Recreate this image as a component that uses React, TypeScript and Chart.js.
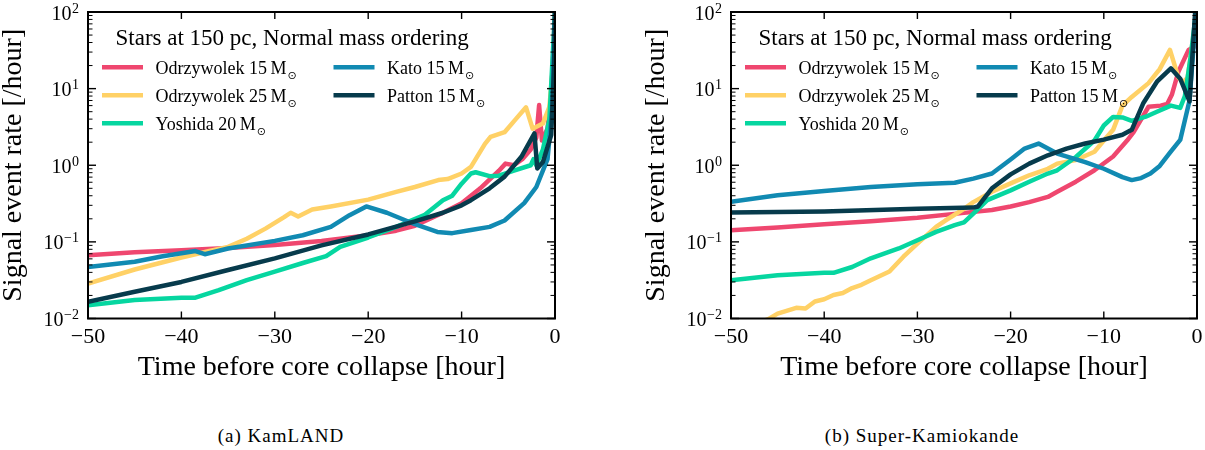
import React, { useEffect, useRef } from 'react';
import { Chart, registerables } from 'chart.js';

Chart.register(...registerables);

const FONT = "'Liberation Serif', 'DejaVu Serif', serif";

// axes
const xTickValues = [-50, -40, -30, -20, -10, 0];
const xTickLabels = ['\u221250', '\u221240', '\u221230', '\u221220', '\u221210', '0'];
const yTickValues = [0.01, 0.1, 1, 10, 100];
const yTickExponents = ['\u22122', '\u22121', '0', '1', '2'];
const yMinorSteps = [2, 3, 4, 5, 6, 7, 8, 9];

const xTitle = 'Time before core collapse [hour]';
const yTitle = 'Signal event rate [/hour]';
const legendTitle = 'Stars at 150 pc, Normal mass ordering';

// series (same order in both panels)
const seriesNames = ['Odrzywolek 15', 'Odrzywolek 25', 'Yoshida 20', 'Kato 15', 'Patton 15'];
const seriesColors = ['#ef476f', '#ffd166', '#06d6a0', '#118ab2', '#073b4c'];

// (a) KamLAND
const kamOdr15T = [-50, -45, -40, -35, -30, -25, -20, -17, -15, -12, -10, -8, -6, -5.3, -4.4, -3.5, -2.6, -2.0, -1.7, -1.4, -0.8, -0.4, 0];
const kamOdr15R = [0.067, 0.073, 0.078, 0.083, 0.091, 0.103, 0.122, 0.14, 0.162, 0.24, 0.32, 0.5, 0.85, 1.05, 1.0, 1.2, 1.6, 2.3, 6.1, 2.1, 3.0, 8, 100];
const kamOdr25T = [-50, -45, -40, -37, -35, -33, -31, -29, -28.3, -27.5, -26, -24, -20, -17, -15, -12.5, -11.5, -10, -9, -7.5, -6.9, -5.4, -4.2, -3.1, -2.4, -1.3, -0.6, -0.2, 0];
const kamOdr25R = [0.0286, 0.0436, 0.0625, 0.076, 0.086, 0.11, 0.149, 0.21, 0.24, 0.215, 0.264, 0.29, 0.356, 0.45, 0.52, 0.64, 0.66, 0.78, 0.95, 1.9, 2.35, 2.7, 4.0, 5.7, 3.0, 3.5, 5.8, 20, 100];
const kamYosT = [-50, -45, -40, -38.5, -36, -33, -30, -27, -24.5, -23, -20, -17, -14, -12, -11, -10, -9, -8.5, -7, -6, -4.4, -2.6, -2.3, -2.0, -1.3, -0.6, 0];
const kamYosR = [0.0149, 0.0174, 0.0186, 0.0187, 0.0234, 0.0316, 0.041, 0.053, 0.065, 0.086, 0.114, 0.157, 0.223, 0.35, 0.4, 0.575, 0.78, 0.81, 0.72, 0.73, 0.85, 1.0, 1.2, 1.0, 1.6, 4, 100];
const kamKatoT = [-50, -45, -42, -38.5, -37.5, -35, -30, -27, -24, -22, -20.2, -18, -15, -12.6, -11, -9, -7, -5.4, -3.3, -2.0, -0.8, -0.3, 0];
const kamKatoR = [0.047, 0.055, 0.065, 0.076, 0.069, 0.082, 0.103, 0.122, 0.157, 0.223, 0.29, 0.24, 0.17, 0.135, 0.13, 0.143, 0.157, 0.19, 0.32, 0.52, 1.2, 5.6, 100];
const kamPatT = [-50, -45, -40, -35, -30, -25, -20, -15, -12, -10, -9, -7, -5.4, -3.6, -2.2, -1.9, -1.3, -0.4, -0.1, 0];
const kamPatR = [0.0165, 0.0223, 0.03, 0.043, 0.061, 0.09, 0.125, 0.185, 0.24, 0.3, 0.35, 0.5, 0.71, 1.29, 2.6, 0.91, 1.1, 2.5, 20, 100];

// (b) Super-Kamiokande
const skOdr15T = [-50, -45, -40, -35, -30, -25, -22, -20, -18, -16, -15, -13, -11, -9, -7.5, -6.8, -5.2, -3.9, -3.2, -2.7, -2.0, -0.9, 0];
const skOdr15R = [0.142, 0.154, 0.17, 0.186, 0.207, 0.239, 0.26, 0.29, 0.33, 0.386, 0.45, 0.61, 0.86, 1.3, 2.1, 2.7, 5.8, 6.0, 6.3, 8.3, 16.6, 32, 37];
const skOdr25T = [-50, -46, -45, -43, -42, -41, -40, -39, -38, -37, -36, -35, -33, -31.5, -30, -28, -27, -25, -24, -22, -20, -18, -16, -15, -13, -11, -10, -9, -8, -7, -5.2, -4, -2.9, -2, -1.5, -1, 0];
const skOdr25R = [0.0065, 0.0098, 0.0116, 0.0138, 0.0135, 0.0167, 0.0178, 0.0203, 0.0215, 0.025, 0.0275, 0.0316, 0.041, 0.064, 0.095, 0.157, 0.19, 0.27, 0.33, 0.45, 0.58, 0.74, 0.9, 1.05, 1.17, 1.5, 2.1, 2.9, 6.0, 7.8, 11.8, 18, 32, 14, 12, 14, 100];
const skYosT = [-50, -45, -40, -39, -37, -35, -32, -30, -28, -26, -25, -24, -22.5, -20, -18, -16, -15, -13, -11, -10, -9, -8, -7, -5.5, -4.3, -2.8, -1.8, -1.3, -0.7, -0.1];
const skYosR = [0.0316, 0.0367, 0.0394, 0.0394, 0.047, 0.061, 0.082, 0.105, 0.135, 0.165, 0.18, 0.234, 0.35, 0.47, 0.61, 0.78, 0.86, 1.28, 2.1, 3.3, 4.27, 4.2, 3.8, 4.3, 5.0, 6.0, 5.6, 8, 25, 100];
const skKatoT = [-50, -45, -40, -35, -30, -26, -24, -22, -20, -18.5, -17, -15, -12, -10, -8, -7, -6, -5, -4, -2.9, -1.8, -0.8, -0.1];
const skKatoR = [0.333, 0.406, 0.462, 0.52, 0.565, 0.59, 0.67, 0.78, 1.19, 1.65, 1.92, 1.42, 1.1, 0.9, 0.7, 0.64, 0.68, 0.78, 0.98, 1.46, 2.14, 7, 100];
const skPatT = [-50, -40, -30, -24, -23.5, -22, -20, -18, -16, -14, -12, -10, -8, -7, -5.75, -4.3, -2.8, -1.8, -0.8, -0.2];
const skPatR = [0.241, 0.25, 0.27, 0.28, 0.29, 0.5, 0.76, 1.05, 1.35, 1.65, 1.92, 2.16, 2.5, 2.9, 6.5, 12.3, 18.4, 13.5, 6.8, 100];

type Series = { t: number[]; r: number[] };

const kamData: Series[] = [
  { t: kamOdr15T, r: kamOdr15R },
  { t: kamOdr25T, r: kamOdr25R },
  { t: kamYosT, r: kamYosR },
  { t: kamKatoT, r: kamKatoR },
  { t: kamPatT, r: kamPatR },
];

const skData: Series[] = [
  { t: skOdr15T, r: skOdr15R },
  { t: skOdr25T, r: skOdr25R },
  { t: skYosT, r: skYosR },
  { t: skKatoT, r: skKatoR },
  { t: skPatT, r: skPatR },
];

// inward ticks on all sides, frame, log tick labels and the in-plot legend
const framePlugin = {
  id: 'frame',
  afterDatasetsDraw(chart: any) {
    const { ctx, chartArea: a, scales } = chart;
    const x = scales.x;
    const y = scales.y;
    const seg = (x1: number, y1: number, x2: number, y2: number) => {
      ctx.beginPath();
      ctx.moveTo(x1, y1);
      ctx.lineTo(x2, y2);
      ctx.stroke();
    };
    ctx.save();
    ctx.strokeStyle = '#000';
    ctx.lineCap = 'butt';

    ctx.lineWidth = 1.4;
    xTickValues.forEach((v) => {
      const px = x.getPixelForValue(v);
      seg(px, a.bottom, px, a.bottom - 7);
      seg(px, a.top, px, a.top + 7);
    });
    yTickValues.forEach((v) => {
      const py = y.getPixelForValue(v);
      seg(a.left, py, a.left + 8, py);
      seg(a.right, py, a.right - 8, py);
    });
    ctx.lineWidth = 1;
    yTickValues.slice(0, -1).forEach((d) => {
      yMinorSteps.forEach((m) => {
        const py = y.getPixelForValue(d * m);
        seg(a.left, py, a.left + 4.5, py);
        seg(a.right, py, a.right - 4.5, py);
      });
    });

    ctx.lineWidth = 2;
    ctx.strokeRect(a.left, a.top, a.right - a.left, a.bottom - a.top);

    // y tick labels: 10 with a superscript exponent
    ctx.fillStyle = '#000';
    ctx.textBaseline = 'alphabetic';
    ctx.textAlign = 'right';
    const xEnd = a.left - 9;
    yTickValues.forEach((v, i) => {
      const py = y.getPixelForValue(v);
      ctx.font = `14px ${FONT}`;
      const ew = ctx.measureText(yTickExponents[i]).width;
      ctx.fillText(yTickExponents[i], xEnd, py + 0.5);
      ctx.font = `20px ${FONT}`;
      ctx.fillText('10', xEnd - ew - 0.5, py + 7.5);
    });

    // legend
    ctx.textAlign = 'left';
    ctx.font = `23px ${FONT}`;
    ctx.fillText(legendTitle, a.left + 27.5, a.top + 33);
    seriesNames.forEach((name, i) => {
      const col = i < 3 ? 0 : 1;
      const row = i < 3 ? i : i - 3;
      const x0 = a.left + (col ? 245.5 : 14);
      const y0 = a.top + 55.3 + row * 28;
      ctx.strokeStyle = seriesColors[i];
      ctx.lineWidth = 4.5;
      seg(x0, y0, x0 + 41, y0);
      const label = name + '\u2009M';
      const tx = x0 + 53.5;
      ctx.font = `18px ${FONT}`;
      ctx.fillText(label, tx, y0 + 7);
      const w = ctx.measureText(label).width;
      ctx.font = `11px 'DejaVu Sans', ${FONT}`;
      ctx.fillText('\u2299', tx + w + 1, y0 + 11.5);
    });
    ctx.restore();
  },
};

function Panel({ data, w, padRight }: { data: Series[]; w: number; padRight: number }) {
  const ref = useRef<HTMLCanvasElement>(null);

  useEffect(() => {
    if (!ref.current) return;
    const chart = new Chart(ref.current, {
      type: 'line',
      data: {
        datasets: data.map((s, i) => ({
          label: seriesNames[i],
          data: s.t.map((t, j) => ({ x: t, y: s.r[j] })),
          borderColor: seriesColors[i],
          backgroundColor: seriesColors[i],
          borderWidth: 4.5,
          pointRadius: 0,
          borderJoinStyle: 'round',
          borderCapStyle: 'butt',
          tension: 0,
          clip: 0,
          order: 5 - i,
        })),
      },
      options: {
        animation: false,
        responsive: false,
        layout: { padding: { left: 0, top: 12, right: padRight, bottom: 12 } },
        plugins: { legend: { display: false }, tooltip: { enabled: false } },
        scales: {
          x: {
            type: 'linear',
            min: -50,
            max: 0,
            grid: { display: false, drawTicks: false },
            border: { display: false },
            afterBuildTicks: (s: any) => {
              s.ticks = xTickValues.map((v) => ({ value: v }));
            },
            afterFit: (s: any) => {
              s.height = 69.5;
              s.paddingLeft = 0;
              s.paddingRight = 0;
            },
            ticks: {
              padding: 6,
              color: '#000',
              autoSkip: false,
              maxRotation: 0,
              font: { size: 22, family: FONT },
              callback: (v: any) => xTickLabels[xTickValues.indexOf(Number(v))] ?? '',
            },
            title: {
              display: true,
              text: xTitle,
              color: '#000',
              font: { size: 28, family: FONT, lineHeight: 1.2 },
              padding: { top: 0, bottom: 4 },
            },
          },
          y: {
            type: 'logarithmic',
            min: 0.01,
            max: 100,
            grid: { display: false, drawTicks: false },
            border: { display: false },
            ticks: { display: false },
            afterFit: (s: any) => {
              s.width = 88;
              s.paddingTop = 0;
              s.paddingBottom = 0;
            },
            title: {
              display: true,
              text: yTitle,
              color: '#000',
              font: { size: 28, family: FONT, lineHeight: 1 },
              padding: { top: 0, bottom: 0 },
            },
          },
        },
      } as any,
      plugins: [framePlugin],
    });
    return () => chart.destroy();
  }, [data, w, padRight]);

  return <canvas ref={ref} width={w} height={400} style={{ display: 'block', width: w, height: 400 }} />;
}

const captionStyle = (cx: number): React.CSSProperties => ({
  position: 'absolute',
  left: cx,
  top: 436,
  transform: 'translate(-50%, -50%)',
  whiteSpace: 'nowrap',
  fontFamily: "'Liberation Serif', serif",
  fontSize: 19,
  letterSpacing: 1,
  color: '#000',
});

export default function App() {
  return (
    <div style={{ position: 'absolute', left: 0, top: 0, width: 1205, height: 450, background: '#fff', overflow: 'hidden' }}>
      <div style={{ position: 'absolute', left: 0, top: 0 }}>
        <Panel data={kamData} w={600} padRight={45} />
      </div>
      <div style={{ position: 'absolute', left: 643, top: 0 }}>
        <Panel data={skData} w={562} padRight={8} />
      </div>
      <div style={captionStyle(281)}>(a) KamLAND</div>
      <div style={captionStyle(922)}>(b) Super-Kamiokande</div>
    </div>
  );
}
